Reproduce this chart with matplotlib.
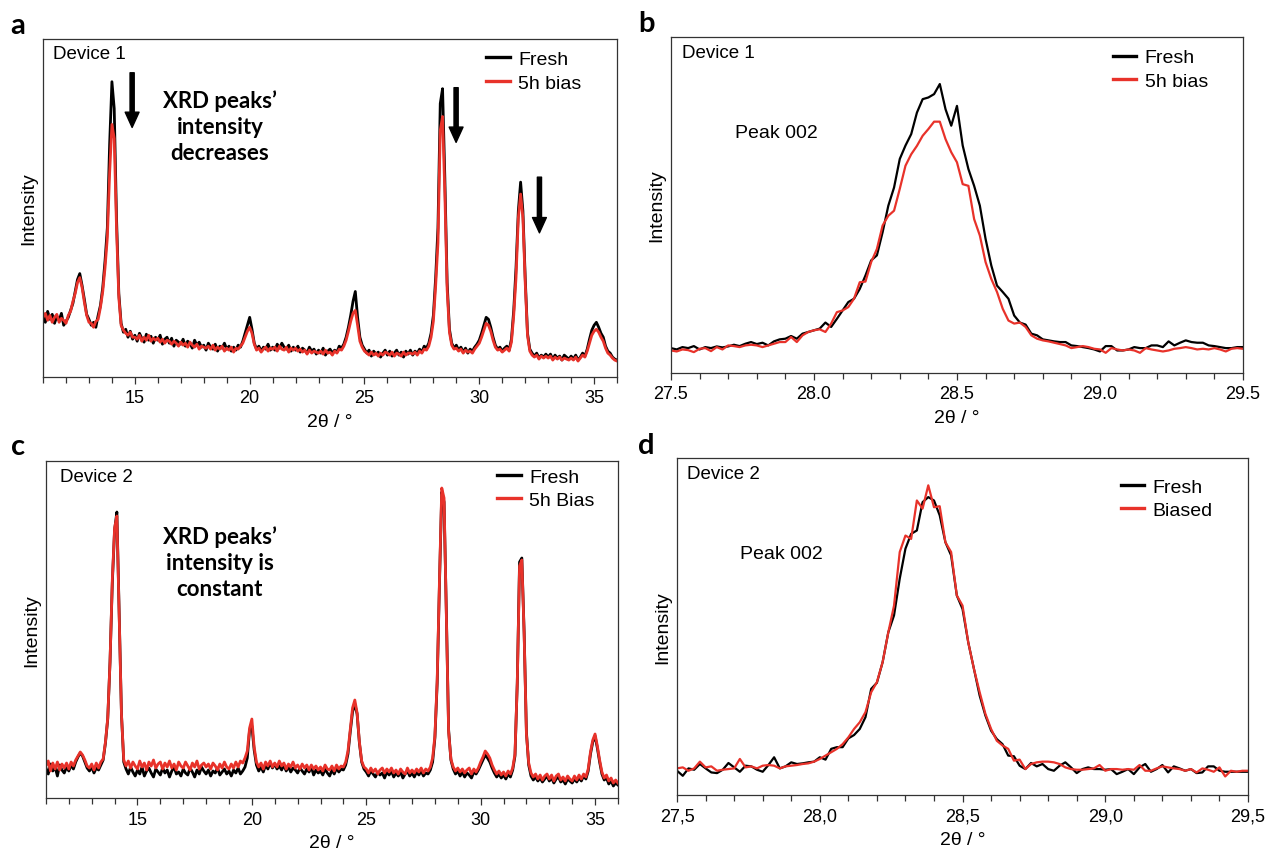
"""XRD patterns of fresh vs biased devices (four panels)."""

import numpy as np
import matplotlib
matplotlib.use("Agg")
import matplotlib.pyplot as plt
from matplotlib.ticker import MultipleLocator, FuncFormatter

plt.rcParams['font.family'] = ['Liberation Sans', 'DejaVu Sans']

RED = "#e8322a"

# full scans, 11-36 deg, 0.1 deg step
scan_2theta = np.linspace(11, 36, 251)

a_fresh = [
    62, 55, 66, 58, 63, 54, 61, 57, 64, 52,
    56, 60, 67, 74, 86, 98, 104, 92, 78, 63,
    58, 52, 55, 50, 62, 72, 90, 117, 150, 234,
    297, 270, 160, 84, 54, 45, 48, 40, 46, 38,
    42, 36, 44, 39, 35, 43, 37, 41, 34, 40,
    37, 42, 33, 38, 40, 34, 39, 31, 37, 35,
    33, 38, 31, 36, 34, 29, 37, 32, 35, 30,
    32, 27, 34, 30, 28, 33, 26, 31, 29, 34,
    28, 31, 26, 30, 27, 32, 30, 36, 44, 52,
    60, 48, 34, 28, 31, 26, 30, 28, 33, 27,
    30, 27, 33, 29, 34, 30, 28, 32, 26, 30,
    27, 31, 25, 29, 27, 24, 30, 26, 28, 23,
    27, 24, 29, 22, 26, 28, 24, 27, 25, 31,
    29, 33, 40, 50, 62, 76, 86, 60, 40, 32,
    28, 24, 27, 21, 26, 23, 25, 20, 24, 27,
    22, 26, 21, 24, 27, 22, 25, 20, 26, 23,
    27, 22, 26, 24, 28, 25, 31, 29, 34, 44,
    62, 100, 150, 275, 290, 200, 95, 48, 34, 29,
    32, 27, 30, 25, 29, 24, 28, 26, 30, 33,
    37, 44, 52, 60, 58, 50, 40, 32, 28, 30,
    26, 29, 31, 27, 38, 67, 110, 167, 196, 167,
    100, 44, 28, 24, 21, 24, 19, 22, 20, 23,
    20, 23, 18, 22, 19, 21, 17, 22, 20, 18,
    21, 18, 22, 17, 20, 24, 21, 28, 38, 47,
    52, 55, 50, 44, 40, 31, 26, 24, 20, 18,
    17,
]
a_biased = [
    60, 64, 57, 62, 55, 60, 63, 55, 59, 57,
    54, 62, 66, 76, 84, 95, 100, 90, 75, 62,
    55, 54, 50, 56, 58, 70, 86, 110, 140, 205,
    254, 240, 150, 80, 52, 47, 44, 42, 45, 40,
    40, 38, 42, 36, 40, 37, 42, 36, 39, 37,
    39, 35, 38, 34, 37, 36, 33, 36, 34, 31,
    35, 32, 34, 30, 35, 32, 30, 33, 28, 31,
    30, 29, 31, 28, 32, 27, 30, 28, 31, 26,
    29, 27, 30, 25, 29, 28, 31, 34, 40, 46,
    50, 44, 33, 27, 29, 25, 28, 30, 26, 29,
    28, 30, 26, 31, 28, 27, 30, 25, 29, 27,
    29, 26, 28, 25, 27, 23, 27, 24, 26, 25,
    24, 26, 23, 27, 24, 25, 22, 26, 24, 28,
    27, 31, 37, 46, 56, 64, 67, 52, 36, 30,
    26, 24, 22, 25, 22, 24, 21, 24, 22, 25,
    24, 22, 25, 21, 24, 23, 21, 25, 22, 24,
    24, 23, 25, 22, 26, 24, 28, 27, 31, 40,
    56, 92, 135, 248, 262, 185, 88, 45, 32, 28,
    29, 26, 28, 24, 27, 25, 26, 24, 28, 31,
    34, 40, 47, 54, 52, 46, 37, 30, 27, 28,
    25, 27, 29, 26, 35, 62, 100, 160, 184, 160,
    95, 42, 26, 22, 20, 22, 18, 21, 19, 21,
    19, 21, 17, 20, 18, 20, 17, 19, 18, 17,
    19, 17, 20, 16, 19, 22, 20, 26, 34, 42,
    46, 48, 45, 40, 36, 29, 24, 22, 19, 17,
    16,
]
c_fresh = [
    30, 24, 34, 27, 31, 22, 33, 28, 25, 31,
    27, 33, 29, 36, 41, 45, 42, 36, 30, 27,
    31, 25, 30, 28, 33, 38, 55, 79, 136, 215,
    268, 286, 186, 84, 36, 29, 24, 31, 26, 22,
    28, 24, 31, 22, 27, 30, 25, 21, 29, 26,
    23, 30, 25, 28, 21, 27, 31, 24, 26, 22,
    29, 25, 23, 30, 26, 21, 28, 24, 31, 27,
    24, 28, 22, 27, 25, 30, 23, 26, 29, 24,
    27, 22, 28, 25, 30, 24, 27, 31, 40, 68,
    72, 48, 33, 27, 31, 26, 33, 29, 35, 30,
    34, 29, 32, 28, 33, 27, 31, 26, 30, 28,
    25, 30, 27, 24, 29, 26, 31, 23, 28, 25,
    27, 23, 29, 25, 22, 28, 24, 30, 26, 29,
    28, 33, 44, 66, 86, 94, 84, 55, 36, 29,
    26, 22, 27, 24, 21, 26, 23, 25, 20, 26,
    23, 27, 21, 25, 22, 26, 20, 24, 27, 22,
    25, 21, 26, 23, 27, 22, 25, 24, 28, 36,
    60, 115, 215, 306, 296, 186, 68, 38, 29, 24,
    27, 22, 26, 21, 25, 23, 20, 26, 24, 28,
    33, 38, 43, 40, 36, 30, 25, 21, 24, 20,
    23, 19, 24, 21, 28, 42, 115, 236, 240, 166,
    66, 33, 22, 18, 21, 17, 20, 16, 19, 22,
    17, 20, 15, 19, 21, 16, 18, 14, 19, 17,
    15, 19, 16, 20, 17, 22, 19, 27, 44, 56,
    62, 50, 36, 24, 18, 20, 14, 17, 12, 15,
    13,
]
c_biased = [
    32, 37, 27, 35, 29, 36, 28, 34, 30, 35,
    29, 36, 32, 38, 42, 46, 43, 38, 32, 30,
    34, 28, 35, 30, 36, 39, 56, 80, 136, 218,
    270, 282, 184, 84, 38, 32, 37, 30, 36, 32,
    29, 37, 31, 35, 28, 36, 32, 38, 30, 34,
    36, 29, 35, 31, 37, 30, 34, 28, 36, 32,
    30, 36, 32, 28, 35, 31, 37, 29, 33, 35,
    31, 34, 29, 35, 32, 28, 34, 30, 36, 31,
    29, 34, 30, 36, 31, 37, 35, 40, 47, 70,
    79, 51, 36, 31, 35, 29, 36, 32, 37, 31,
    35, 31, 37, 32, 35, 29, 34, 31, 36, 30,
    33, 29, 34, 30, 33, 28, 33, 29, 32, 28,
    31, 27, 33, 29, 28, 32, 27, 33, 29, 32,
    31, 36, 47, 68, 90, 98, 85, 56, 37, 31,
    29, 25, 30, 26, 29, 24, 28, 30, 25, 29,
    26, 30, 25, 28, 24, 29, 26, 24, 30, 25,
    28, 25, 29, 26, 30, 25, 29, 27, 31, 40,
    62, 118, 218, 310, 300, 184, 66, 39, 31, 27,
    30, 26, 29, 25, 28, 30, 24, 29, 26, 30,
    36, 41, 47, 44, 40, 33, 28, 24, 27, 23,
    26, 22, 27, 24, 30, 44, 115, 232, 238, 164,
    64, 35, 25, 21, 24, 19, 23, 18, 22, 24,
    19, 23, 17, 22, 24, 18, 21, 17, 22, 19,
    17, 22, 18, 23, 19, 24, 21, 29, 46, 58,
    64, 52, 38, 26, 20, 23, 17, 20, 15, 18,
    15,
]

# peak 002 close-ups, 27.5-29.5 deg, 0.02 deg step
peak_2theta = np.linspace(27.5, 29.5, 101)

b_fresh = [
    7.4, 7.0, 7.7, 7.4, 8.0, 7.0, 7.7, 7.4, 7.9, 7.6,
    7.9, 8.4, 8.0, 8.7, 9.2, 8.6, 9.0, 8.2, 9.4, 10.0,
    10.2, 11.0, 10.2, 11.7, 12.2, 12.7, 13.2, 15.0, 13.7, 16.1,
    18.6, 21.1, 22.1, 25.0, 29.0, 33.5, 35.0, 41.9, 49.8, 55.2,
    63.7, 67.7, 71.1, 77.5, 81.5, 82.0, 83.0, 86.0, 78.5, 73.6,
    79.5, 67.7, 60.7, 55.7, 49.8, 39.9, 32.0, 26.0, 24.1, 22.1,
    17.1, 15.0, 14.4, 11.7, 11.2, 10.0, 9.7, 9.4, 9.2, 9.2,
    8.2, 8.0, 7.7, 7.4, 7.0, 6.4, 8.0, 8.0, 6.7, 6.7,
    7.0, 7.7, 7.4, 7.4, 8.2, 8.2, 7.7, 9.4, 8.2, 9.0,
    9.7, 9.2, 9.0, 9.0, 8.2, 8.0, 7.7, 7.4, 7.4, 7.7,
    7.7,
]
b_biased = [
    6.7, 6.4, 7.0, 6.8, 6.2, 7.2, 7.4, 6.5, 7.7, 7.0,
    8.2, 8.0, 7.7, 8.2, 8.4, 8.2, 7.7, 8.2, 8.7, 9.2,
    9.2, 10.7, 9.2, 11.2, 12.2, 12.7, 13.0, 12.2, 14.7, 18.1,
    18.6, 19.6, 22.1, 27.0, 27.2, 33.0, 36.9, 43.9, 46.8, 48.3,
    54.8, 61.7, 65.1, 67.6, 70.6, 72.6, 74.8, 74.8, 69.6, 65.7,
    62.7, 56.2, 55.7, 45.8, 40.9, 33.0, 28.0, 24.1, 19.1, 15.6,
    14.7, 15.0, 13.7, 11.2, 10.2, 9.7, 9.4, 9.0, 8.6, 8.2,
    7.4, 7.7, 8.0, 7.7, 7.2, 7.0, 6.0, 7.4, 7.0, 6.7,
    7.0, 6.7, 6.0, 7.4, 7.0, 6.7, 6.4, 6.7, 7.2, 7.4,
    7.7, 7.4, 7.0, 7.2, 7.0, 7.4, 7.0, 6.4, 7.2, 7.4,
    7.2,
]
d_fresh = [
    7.2, 5.7, 7.9, 7.5, 9.2, 7.9, 6.7, 6.5, 7.5, 9.5,
    8.2, 6.9, 8.7, 8.5, 7.5, 6.9, 8.9, 11.2, 7.9, 8.5,
    9.7, 9.2, 9.4, 9.7, 9.9, 11.2, 10.5, 13.7, 14.2, 14.2,
    16.8, 17.8, 19.6, 23.1, 31.5, 33.3, 39.4, 48.3, 53.3, 64.2,
    73.1, 77.5, 78.5, 86.9, 88.4, 87.4, 83.0, 75.0, 71.1, 59.2,
    55.2, 45.3, 37.4, 29.5, 23.6, 19.1, 16.6, 15.1, 11.7, 11.5,
    8.7, 7.7, 9.5, 8.5, 9.2, 7.7, 7.2, 8.7, 9.7, 8.2,
    6.5, 7.7, 8.2, 7.7, 7.7, 7.5, 7.7, 6.2, 6.9, 7.7,
    6.2, 8.2, 9.2, 6.9, 7.7, 8.9, 6.7, 8.5, 7.9, 7.2,
    7.7, 6.5, 6.7, 8.5, 8.5, 7.2, 6.9, 6.9, 6.9, 6.9,
    6.9,
]
d_biased = [
    7.9, 8.2, 7.2, 7.9, 9.9, 8.2, 8.5, 7.2, 7.5, 7.7,
    7.9, 10.7, 8.2, 8.5, 7.9, 8.7, 8.9, 8.7, 7.9, 8.5,
    8.7, 8.9, 9.2, 9.4, 9.9, 10.7, 11.7, 12.7, 13.7, 15.1,
    17.1, 19.6, 21.6, 24.6, 30.5, 33.5, 39.4, 48.3, 56.2, 72.1,
    77.0, 76.0, 87.4, 85.0, 91.9, 85.4, 85.7, 75.0, 72.1, 59.2,
    56.2, 45.3, 37.4, 30.5, 24.1, 19.6, 16.1, 14.7, 13.7, 10.2,
    10.5, 7.7, 9.2, 9.7, 9.9, 9.9, 9.7, 9.2, 8.2, 7.7,
    7.5, 7.5, 7.7, 7.9, 8.9, 7.2, 7.7, 7.7, 7.5, 7.7,
    7.5, 8.9, 7.2, 7.2, 7.9, 8.5, 8.2, 7.9, 7.7, 7.2,
    7.7, 6.7, 7.9, 7.5, 6.9, 8.2, 5.5, 7.2, 6.9, 7.2,
    7.2,
]


def style_axes(ax, xlim, ylim, major, minor, fmt):
    """Box, bottom ticks only, no y ticks."""
    ax.set_xlim(*xlim)
    ax.set_ylim(*ylim)
    ax.set_yticks([])
    ax.xaxis.set_major_locator(MultipleLocator(major))
    ax.xaxis.set_minor_locator(MultipleLocator(minor))
    ax.xaxis.set_major_formatter(FuncFormatter(fmt))
    ax.tick_params(axis="x", which="both", direction="out", color="#333333",
                   width=0.9, labelsize=13, pad=4)
    ax.tick_params(axis="x", which="major", length=5)
    ax.tick_params(axis="x", which="minor", length=4)
    for sp in ax.spines.values():
        sp.set_linewidth(0.9)
        sp.set_color("#333333")
    ax.set_xlabel("2θ / °", fontsize=14, labelpad=5)
    ax.set_ylabel("Intensity", fontsize=14, labelpad=4)


def add_legend(ax, labels, anchor):
    leg = ax.legend(labels, loc="center left", bbox_to_anchor=anchor, frameon=False,
                    fontsize=14, handlelength=1.2, handletextpad=0.45,
                    labelspacing=0.3, borderpad=0, borderaxespad=0)
    for line in leg.get_lines():
        line.set_linewidth(2.4)


fig = plt.figure(figsize=(12.66, 8.54), dpi=100)
ax_a = fig.add_axes([0.0340, 0.5574, 0.4534, 0.3958])
ax_b = fig.add_axes([0.5300, 0.5621, 0.4518, 0.3934])
ax_c = fig.add_axes([0.0363, 0.0644, 0.4518, 0.3946])
ax_d = fig.add_axes([0.5348, 0.0679, 0.4510, 0.3946])

int_fmt = lambda v, p: f"{v:.0f}"
dot_fmt = lambda v, p: f"{v:.1f}"
comma_fmt = lambda v, p: f"{v:.1f}".replace(".", ",")

# a: device 1 full scan
ax_a.plot(scan_2theta, a_fresh, color="black", lw=2.0)
ax_a.plot(scan_2theta, a_biased, color=RED, lw=2.0)
style_axes(ax_a, (11, 36), (0, 340), 5, 1, int_fmt)
add_legend(ax_a, ["Fresh", "5h bias"], (0.772, 0.905))
ax_a.text(0.018, 0.982, "Device 1", transform=ax_a.transAxes, fontsize=13.5, va="top")
ax_a.text(0.308, 0.743, "XRD peaks’\nintensity\ndecreases", transform=ax_a.transAxes,
          family="Lato", weight="bold", fontsize=16, ha="center", va="center",
          linespacing=1.3)
for x_arrow, y_tail, y_tip in [(14.88, 306, 251), (28.99, 291, 236), (32.62, 201, 145)]:
    ax_a.annotate("", xy=(x_arrow, y_tip), xytext=(x_arrow, y_tail),
                  arrowprops=dict(width=3, headwidth=10, headlength=11, shrink=0,
                                  color="black"))

# b: device 1 peak 002
ax_b.plot(peak_2theta, b_fresh, color="black", lw=1.6)
ax_b.plot(peak_2theta, b_biased, color=RED, lw=1.6)
style_axes(ax_b, (27.5, 29.5), (0, 100), 0.5, 0.1, dot_fmt)
add_legend(ax_b, ["Fresh", "5h bias"], (0.772, 0.904))
ax_b.text(0.02, 0.98, "Device 1", transform=ax_b.transAxes, fontsize=13.5, va="top")
ax_b.text(0.112, 0.717, "Peak 002", transform=ax_b.transAxes, fontsize=14, va="center")

# c: device 2 full scan
ax_c.plot(scan_2theta, c_fresh, color="black", lw=2.0)
ax_c.plot(scan_2theta, c_biased, color=RED, lw=2.0)
style_axes(ax_c, (11, 36), (0, 337), 5, 1, int_fmt)
add_legend(ax_c, ["Fresh", "5h Bias"], (0.789, 0.918))
ax_c.text(0.024, 0.98, "Device 2", transform=ax_c.transAxes, fontsize=13.5, va="top")
ax_c.text(0.304, 0.70, "XRD peaks’\nintensity is\nconstant", transform=ax_c.transAxes,
          family="Lato", weight="bold", fontsize=16, ha="center", va="center",
          linespacing=1.3)

# d: device 2 peak 002
ax_d.plot(peak_2theta, d_fresh, color="black", lw=1.6)
ax_d.plot(peak_2theta, d_biased, color=RED, lw=1.6)
style_axes(ax_d, (27.5, 29.5), (0, 100), 0.5, 0.1, comma_fmt)
add_legend(ax_d, ["Fresh", "Biased"], (0.777, 0.88))
ax_d.text(0.018, 0.98, "Device 2", transform=ax_d.transAxes, fontsize=13.5, va="top")
ax_d.text(0.110, 0.717, "Peak 002", transform=ax_d.transAxes, fontsize=14, va="center")

# panel letters
for letter, (fx, fy) in {"a": (0.0142, 0.970), "b": (0.5103, 0.972),
                         "c": (0.0142, 0.4766), "d": (0.5103, 0.4778)}.items():
    fig.text(fx, fy, letter, family="Lato", weight="bold", fontsize=21,
             ha="center", va="center")

fig.savefig("out.png", dpi=100)
